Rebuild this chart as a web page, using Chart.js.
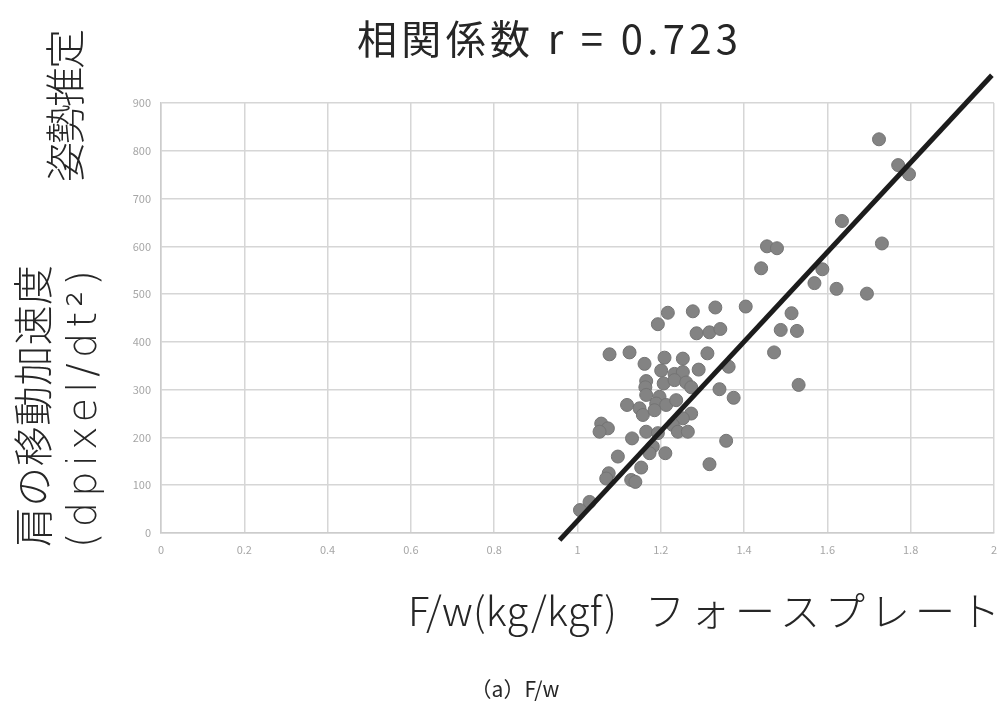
<!DOCTYPE html>
<html>
<head>
<meta charset="utf-8">
<script src="https://cdn.jsdelivr.net/npm/chart.js@4.4.1/dist/chart.umd.min.js"></script>
<style>
  html, body { margin: 0; padding: 0; background: #fff; }
  #wrap { width: 1007px; height: 702px; }
</style>
</head>
<body>
<div id="wrap"><canvas id="chart" width="1007" height="702"></canvas></div>
<script>
// scatter data: F/w vs shoulder acceleration
const fwValues = [
  1.724, 1.770, 1.796, 1.635, 1.731, 1.455, 1.479, 1.441, 1.588, 1.569,
  1.622, 1.695, 1.331, 1.404, 1.514, 1.217, 1.277, 1.193, 1.286, 1.317,
  1.343, 1.077, 1.125, 1.209, 1.253, 1.312, 1.472, 1.161, 1.201, 1.233,
  1.253, 1.291, 1.363, 1.165, 1.163, 1.207, 1.233, 1.261, 1.273, 1.341,
  1.375, 1.165, 1.197, 1.189, 1.213, 1.237, 1.119, 1.149, 1.157, 1.185,
  1.273, 1.253, 1.057, 1.073, 1.053, 1.165, 1.193, 1.229, 1.241, 1.265,
  1.131, 1.357, 1.181, 1.173, 1.211, 1.097, 1.317, 1.153, 1.075, 1.069,
  1.129, 1.139, 1.029, 1.006, 1.488, 1.527, 1.531
];
const accelValues = [
  824, 770, 751, 653, 606, 600, 596, 554, 552, 523,
  511, 501, 472, 474, 460, 461, 464, 437, 418, 420,
  427, 374, 378, 367, 365, 376, 378, 354, 340, 333,
  337, 342, 348, 318, 305, 313, 320, 315, 305, 301,
  283, 289, 285, 271, 268, 278, 268, 261, 247, 257,
  250, 240, 229, 219, 212, 212, 209, 226, 212, 212,
  198, 193, 181, 167, 167, 160, 144, 137, 125, 114,
  111, 107, 65, 48, 425, 423, 310
];

// fitted line end points as drawn in the picture
const fitX = [0.957, 1.995];
const fitY = [-15, 958];

const titleText = '相関係数 r = 0.723';
const yTitleLine1 = '肩の移動加速度';
const yTitleLine2 = '(dpixel/dt²)';
const yTitleExtra = '姿勢推定';
const xTitleLeft = 'F/w(kg/kgf)';
const xTitleRight = 'フォースプレート';
const captionText = '（a）F/w';

const scatterPoints = fwValues.map((x, i) => ({ x: x, y: accelValues[i] }));
const fitPoints = fitX.map((x, i) => ({ x: x, y: fitY[i] }));

const FONT = '"Noto Sans CJK JP", "Noto Sans", sans-serif';
const LATIN_FONT = '"DejaVu Sans", "Noto Sans CJK JP", sans-serif';

// draw a text so that it spans a given width (stretching letter spacing)
function drawFitted(ctx, text, x, y, width, font, rotate) {
  ctx.save();
  ctx.font = font;
  ctx.fillStyle = '#262626';
  ctx.textAlign = 'left';
  ctx.textBaseline = 'middle';
  const natural = ctx.measureText(text).width;
  const chars = Array.from(text).length;
  if ('letterSpacing' in ctx && chars > 1) {
    ctx.letterSpacing = ((width - natural) / (chars - 1)).toFixed(2) + 'px';
  }
  ctx.translate(x, y);
  if (rotate) ctx.rotate(-Math.PI / 2);
  ctx.fillText(text, 0, 0);
  ctx.restore();
}

const textPlugin = {
  id: 'texts',
  afterDraw(chart) {
    const ctx = chart.ctx;
    drawFitted(ctx, titleText, 357, 39, 381, '400 40px ' + FONT, false);
    drawFitted(ctx, xTitleLeft, 408, 611, 209, '300 40px ' + FONT, false);
    drawFitted(ctx, xTitleRight, 645, 611, 355, '300 40px ' + FONT, false);
    drawFitted(ctx, yTitleLine1, 33, 547, 282, '300 40px ' + FONT, true);
    drawFitted(ctx, yTitleLine2, 86, 548, 278, '200 40px ' + LATIN_FONT, true);
    drawFitted(ctx, yTitleExtra, 65, 182, 153, '300 40px ' + FONT, true);

    ctx.save();
    ctx.font = '400 21px ' + FONT;
    ctx.fillStyle = '#262626';
    ctx.textAlign = 'center';
    ctx.textBaseline = 'middle';
    ctx.fillText(captionText, 515, 689);
    ctx.restore();
  }
};

const ctx = document.getElementById('chart').getContext('2d');
new Chart(ctx, {
  type: 'scatter',
  data: {
    datasets: [
      {
        type: 'line',
        label: 'fit',
        data: fitPoints,
        borderColor: '#1c1c1c',
        borderWidth: 5,
        pointRadius: 0,
        fill: false,
        clip: false
      },
      {
        label: 'F/w',
        data: scatterPoints,
        backgroundColor: '#838383',
        borderColor: '#747474',
        borderWidth: 1,
        pointRadius: 6.5
      }
    ]
  },
  options: {
    responsive: false,
    animation: false,
    devicePixelRatio: 1,
    layout: { padding: { top: 103, right: 12, left: 0, bottom: 0 } },
    plugins: {
      legend: { display: false },
      tooltip: { enabled: false }
    },
    scales: {
      x: {
        type: 'linear',
        min: 0,
        max: 2,
        ticks: {
          stepSize: 0.2,
          color: '#a6a6a6',
          font: { size: 11, family: FONT },
          padding: 10,
          callback: (v) => String(parseFloat(Number(v).toFixed(1)))
        },
        grid: { color: '#d6d6d6', lineWidth: 1.5, drawTicks: false },
        border: { color: '#cccccc', width: 1.5 },
        afterFit(scale) { scale.height = 169; }
      },
      y: {
        type: 'linear',
        min: 0,
        max: 900,
        ticks: {
          stepSize: 100,
          color: '#a6a6a6',
          font: { size: 11, family: FONT },
          padding: 10
        },
        grid: { color: '#d6d6d6', lineWidth: 1.5, drawTicks: false },
        border: { color: '#cccccc', width: 1.5 },
        afterFit(scale) { scale.width = 161; }
      }
    }
  },
  plugins: [textPlugin]
});
</script>
</body>
</html>
